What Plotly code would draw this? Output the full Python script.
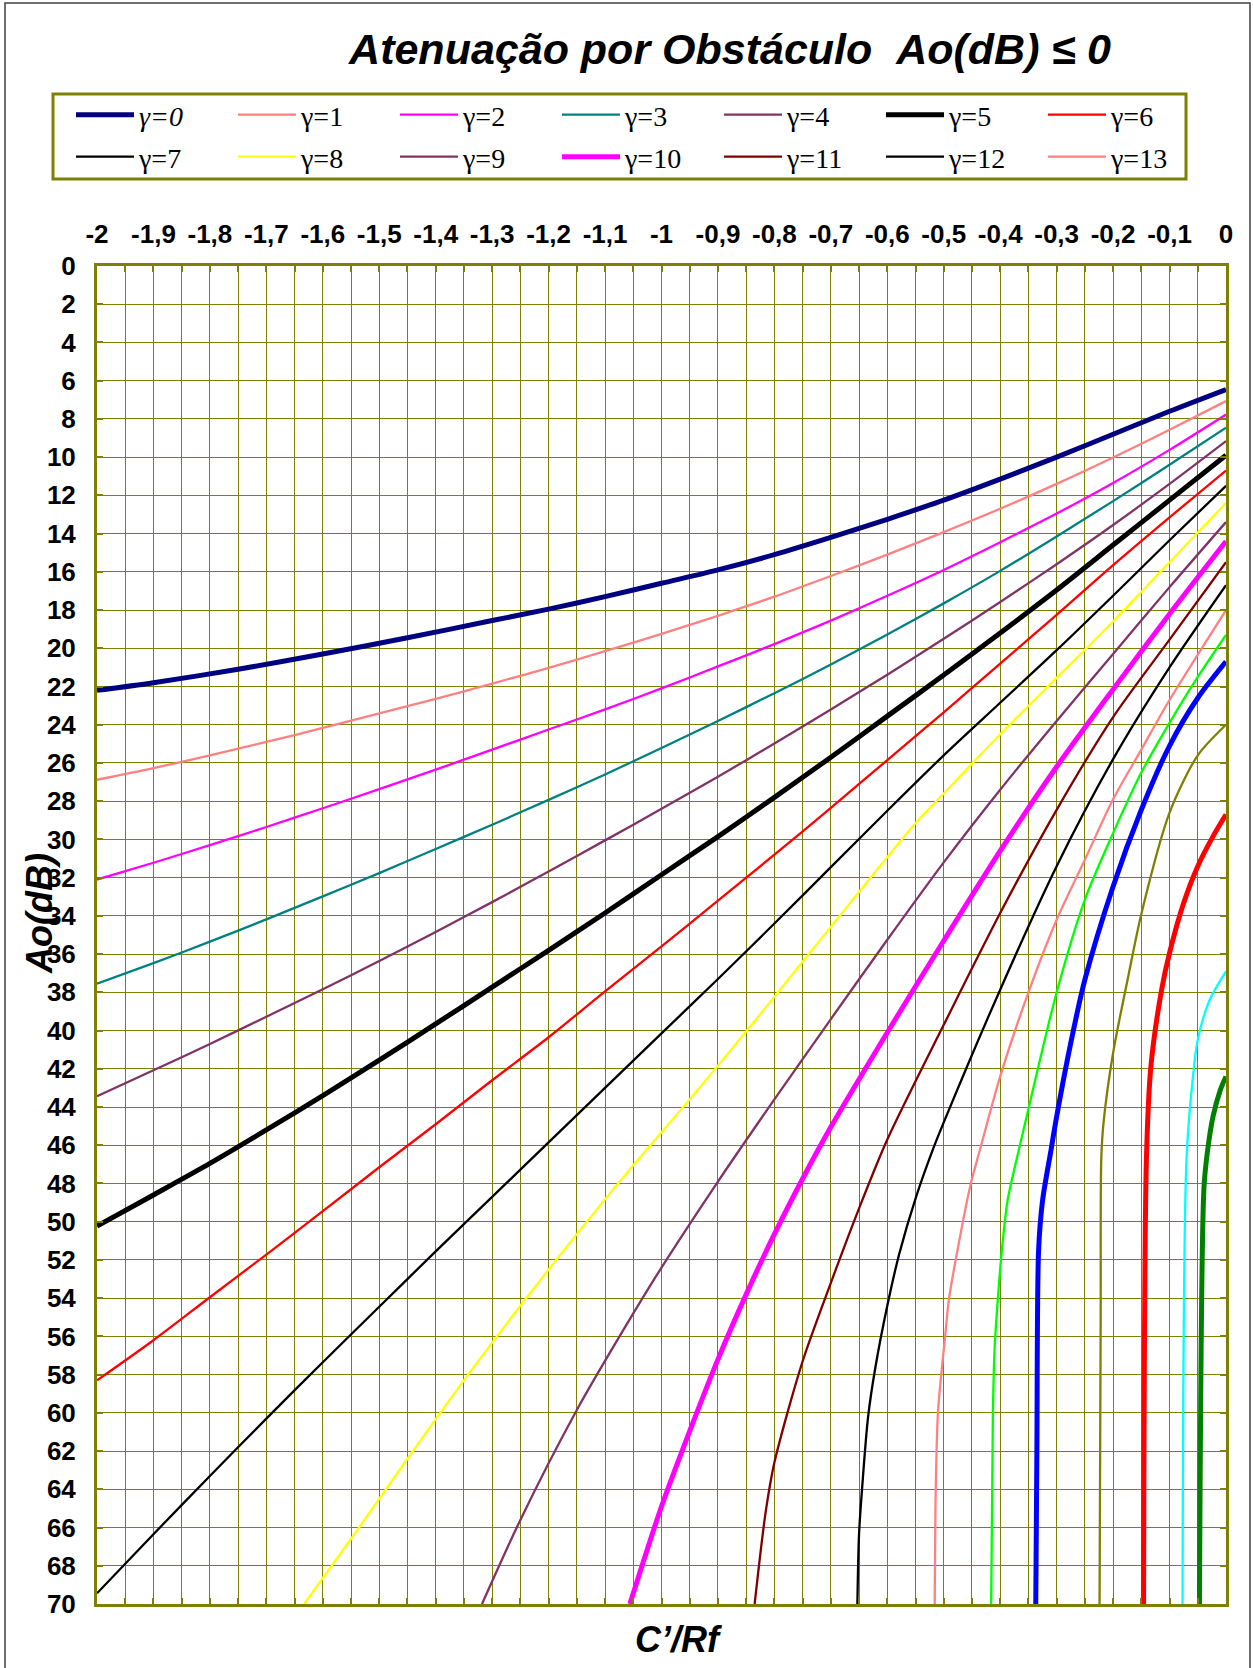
import plotly.graph_objects as go

# ---------------------------------------------------------------------------
# Axis ticks
# ---------------------------------------------------------------------------
X_TICKS = [-2.0, -1.9, -1.8, -1.7, -1.6, -1.5, -1.4, -1.3, -1.2, -1.1, -1.0,
           -0.9, -0.8, -0.7, -0.6, -0.5, -0.4, -0.3, -0.2, -0.1, 0.0]
X_TICK_LABELS = ["-2", "-1,9", "-1,8", "-1,7", "-1,6", "-1,5", "-1,4", "-1,3",
                 "-1,2", "-1,1", "-1", "-0,9", "-0,8", "-0,7", "-0,6", "-0,5",
                 "-0,4", "-0,3", "-0,2", "-0,1", "0"]
Y_TICKS = list(range(0, 72, 2))

# ---------------------------------------------------------------------------
# Curves Ao(dB) x C'/Rf, one pair of arrays per gamma
# ---------------------------------------------------------------------------
G0_X = [-2.0, -1.9, -1.75, -1.6, -1.45, -1.3, -1.2, -1.1, -1.0, -0.9, -0.8,
        -0.7, -0.6, -0.5, -0.4, -0.3, -0.2, -0.1, 0.0]
G0_Y = [22.2, 21.8, 21.1, 20.3, 19.45, 18.55, 17.95, 17.3, 16.6, 15.9, 15.1,
        14.2, 13.25, 12.25, 11.15, 10.0, 8.8, 7.6, 6.46]

G1_X = [-2.0, -1.9, -1.8, -1.7, -1.6, -1.5, -1.4, -1.3, -1.2, -1.1, -1.0,
        -0.9, -0.8, -0.7, -0.6, -0.5, -0.4, -0.3, -0.2, -0.1, 0.0]
G1_Y = [26.88, 26.27, 25.6, 24.9, 24.17, 23.4, 22.65, 21.85, 21.02, 20.15,
        19.25, 18.3, 17.3, 16.22, 15.1, 13.92, 12.7, 11.4, 10.02, 8.57, 7.07]

G2_X = [-2.0, -1.9, -1.8, -1.7, -1.6, -1.5, -1.4, -1.3, -1.2, -1.1, -1.0,
        -0.9, -0.8, -0.7, -0.6, -0.5, -0.4, -0.3, -0.2, -0.1, 0.0]
G2_Y = [32.1, 31.22, 30.3, 29.35, 28.37, 27.37, 26.35, 25.3, 24.25, 23.2,
        22.1, 20.95, 19.78, 18.55, 17.25, 15.9, 14.45, 12.95, 11.35, 9.62, 7.77]

G3_X = [-2.0, -1.9, -1.8, -1.7, -1.6, -1.5, -1.4, -1.3, -1.2, -1.1, -1.0,
        -0.9, -0.8, -0.7, -0.6, -0.5, -0.4, -0.3, -0.2, -0.1, 0.0]
G3_Y = [37.55, 36.47, 35.35, 34.18, 32.98, 31.76, 30.5, 29.23, 27.93, 26.6,
        25.22, 23.8, 22.35, 20.85, 19.28, 17.65, 15.95, 14.15, 12.3, 10.4, 8.46]

G4_X = [-2.0, -1.9, -1.8, -1.7, -1.6, -1.5, -1.4, -1.3, -1.2, -1.1, -1.0,
        -0.9, -0.8, -0.7, -0.6, -0.5, -0.4, -0.3, -0.2, -0.1, 0.0]
G4_Y = [43.44, 42.08, 40.7, 39.28, 37.84, 36.36, 34.84, 33.28, 31.68, 30.05,
        28.4, 26.72, 24.98, 23.2, 21.38, 19.5, 17.58, 15.6, 13.55, 11.4, 9.16]

G5_X = [-2.0, -1.9, -1.8, -1.7, -1.6, -1.5, -1.4, -1.3, -1.2, -1.1, -1.0,
        -0.9, -0.8, -0.7, -0.6, -0.5, -0.4, -0.3, -0.2, -0.1, 0.0]
G5_Y = [50.23, 48.6, 46.95, 45.2, 43.4, 41.55, 39.65, 37.73, 35.8, 33.85,
        31.85, 29.85, 27.8, 25.7, 23.55, 21.4, 19.2, 16.95, 14.6, 12.25, 9.9]

G6_X = [-2.0, -1.9, -1.8, -1.7, -1.6, -1.5, -1.4, -1.3, -1.2, -1.1, -1.0,
        -0.9, -0.8, -0.7, -0.6, -0.5, -0.4, -0.3, -0.2, -0.1, 0.0]
G6_Y = [58.3, 56.2, 53.95, 51.72, 49.45, 47.15, 44.9, 42.6, 40.35, 37.95,
        35.6, 33.2, 30.8, 28.35, 25.85, 23.35, 20.8, 18.25, 15.65, 13.15, 10.7]

G7_X = [-2.0, -1.9, -1.8, -1.7, -1.6, -1.5, -1.4, -1.3, -1.2, -1.1, -1.0,
        -0.9, -0.8, -0.7, -0.6, -0.5, -0.4, -0.3, -0.2, -0.1, 0.0]
G7_Y = [69.44, 66.35, 63.3, 60.3, 57.35, 54.45, 51.55, 48.7, 45.85, 43.0,
        40.15, 37.3, 34.4, 31.45, 28.5, 25.6, 22.85, 20.1, 17.25, 14.35, 11.5]

G8_X = [-1.633, -1.55, -1.45, -1.35, -1.25, -1.15, -1.05, -0.95, -0.85,
        -0.75, -0.65, -0.55, -0.5, -0.4, -0.3, -0.2, -0.1, 0.0]
G8_Y = [70.0, 66.6, 62.4, 58.3, 54.4, 50.65, 47.05, 43.6, 40.05,
        36.4, 32.75, 29.15, 27.6, 24.5, 21.55, 18.6, 15.5, 12.4]

G9_X = [-1.318, -1.25, -1.15, -1.05, -1.0, -0.9, -0.8, -0.7, -0.6, -0.5,
        -0.4, -0.3, -0.2, -0.1, 0.0]
G9_Y = [70.0, 65.6, 59.85, 54.8, 52.4, 47.9, 43.6, 39.4, 35.25, 31.2,
        27.4, 23.8, 20.3, 16.8, 13.4]

G10_X = [-1.056, -1.0, -0.95, -0.9, -0.85, -0.8, -0.75, -0.7, -0.6, -0.5,
         -0.4, -0.3, -0.2, -0.1, 0.0]
G10_Y = [70.0, 64.9, 60.95, 57.2, 53.8, 50.65, 47.75, 45.05, 40.1, 35.3,
         30.6, 26.2, 22.15, 18.2, 14.4]

G11_X = [-0.835, -0.816, -0.8, -0.75, -0.7, -0.65, -0.6, -0.5, -0.4, -0.3,
         -0.2, -0.1, 0.0]
G11_Y = [70.0, 65.3, 62.6, 57.3, 53.2, 49.3, 45.7, 39.7, 33.85, 28.45,
         23.6, 19.55, 15.5]

G12_X = [-0.653, -0.65, -0.644, -0.634, -0.621, -0.6, -0.579, -0.549, -0.517,
         -0.5, -0.4, -0.3, -0.2, -0.1, 0.0]
G12_Y = [70.0, 66.3, 63.7, 60.2, 57.6, 54.4, 51.7, 48.7, 46.05,
         44.8, 37.86, 31.4, 25.8, 21.0, 16.7]

G13_X = [-0.516, -0.514, -0.51, -0.497, -0.491, -0.47, -0.452, -0.436, -0.4,
         -0.35, -0.3, -0.25, -0.2, -0.15, -0.104, 0.0]
G13_Y = [70.0, 63.7, 59.85, 55.84, 54.1, 50.6, 48.0, 46.25, 42.4,
         38.0, 34.2, 31.06, 27.9, 25.3, 22.9, 18.0]

G14_X = [-0.416, -0.413, -0.41, -0.403, -0.397, -0.387, -0.367, -0.35, -0.3,
         -0.25, -0.2, -0.15, -0.1, -0.05, 0.0]
G14_Y = [70.0, 60.2, 56.7, 53.57, 51.5, 48.9, 46.25, 44.1, 38.0,
         33.15, 29.67, 26.5, 23.9, 21.5, 19.3]

G15_X = [-0.337, -0.335, -0.332, -0.325, -0.31, -0.3, -0.275, -0.25, -0.2,
         -0.15, -0.1, -0.05, 0.0]
G15_Y = [70.0, 61.9, 51.5, 48.9, 46.25, 44.5, 40.65, 37.34, 32.46,
         28.45, 25.1, 22.6, 20.7]

G16_X = [-0.224, -0.222, -0.221, -0.217, -0.2, -0.172, -0.15, -0.1, -0.05, 0.0]
G16_Y = [70.0, 55.0, 46.75, 44.84, 41.17, 37.0, 33.9, 28.6, 25.6, 24.0]

G17_X = [-0.146, -0.141, -0.133, -0.114, -0.1, -0.075, -0.05, -0.023, 0.0]
G17_Y = [70.0, 46.75, 41.87, 37.86, 35.94, 33.33, 31.4, 29.84, 28.7]

G18_X = [-0.077, -0.07, -0.0585, -0.05, -0.029, 0.0]
G18_Y = [70.0, 46.75, 42.4, 40.48, 38.4, 36.9]

G19_X = [-0.047, -0.039, -0.0325, -0.023, -0.01, 0.0]
G19_Y = [70.0, 48.2, 46.25, 44.5, 43.1, 42.4]

NAMES = ["<i>γ=0</i>", "γ=1", "γ=2", "γ=3", "γ=4", "γ=5", "γ=6", "γ=7",
         "γ=8", "γ=9", "γ=10", "γ=11", "γ=12", "γ=13",
         "γ=14", "γ=15", "γ=16", "γ=17", "γ=18", "γ=19"]

CURVES = [(G0_X, G0_Y), (G1_X, G1_Y), (G2_X, G2_Y), (G3_X, G3_Y),
          (G4_X, G4_Y), (G5_X, G5_Y), (G6_X, G6_Y), (G7_X, G7_Y),
          (G8_X, G8_Y), (G9_X, G9_Y), (G10_X, G10_Y), (G11_X, G11_Y),
          (G12_X, G12_Y), (G13_X, G13_Y), (G14_X, G14_Y), (G15_X, G15_Y),
          (G16_X, G16_Y), (G17_X, G17_Y), (G18_X, G18_Y), (G19_X, G19_Y)]

# ---------------------------------------------------------------------------
# Styles
# ---------------------------------------------------------------------------
COLORS = ["#000080", "#FF8080", "#FF00FF", "#008080", "#803366", "#000000",
          "#FF0000", "#000000", "#FFFF00", "#803366", "#FF00FF", "#800000",
          "#000000", "#FF8080", "#00FF00", "#0000FF", "#808000", "#FF0000",
          "#00FFFF", "#008000"]
THICK = {0, 5, 10, 15, 17, 19}
ROW1 = set(range(0, 7))          # first legend row
ROW2 = set(range(7, 14))         # second legend row

OLIVE = "#808000"
W, H = 1253, 1668
L, R, T, B = 97, 27, 266, 64
PW, PH = W - L - R, H - T - B


def px_to_paper_x(px):
    return (px - L) / PW


def px_to_paper_y(py):
    return (H - B - py) / PH


fig = go.Figure()
for i, ((xs, ys), name, color) in enumerate(zip(CURVES, NAMES, COLORS)):
    in_legend = i in ROW1 or i in ROW2
    fig.add_trace(go.Scatter(
        x=xs, y=ys, mode="lines", name=name,
        line=dict(color=color, width=5 if i in THICK else 2.3,
                  shape="spline", smoothing=0.8),
        showlegend=in_legend,
        legend="legend" if i in ROW1 else "legend2",
        hoverinfo="x+y+name",
    ))

tick_font = dict(family="Liberation Sans", size=26, color="black", weight="bold")

fig.update_xaxes(
    side="top", range=[-2, 0],
    tickmode="array", tickvals=X_TICKS, ticktext=X_TICK_LABELS,
    tickfont=tick_font, ticklabelstandoff=10,
    showgrid=True, gridcolor=OLIVE, gridwidth=1,
    minor=dict(dtick=0.05, tick0=0, showgrid=True, gridcolor=OLIVE,
               gridwidth=1, ticks="inside", ticklen=6, tickwidth=2,
               tickcolor=OLIVE),
    ticks="inside", ticklen=6, tickwidth=2, tickcolor=OLIVE,
    showline=True, linecolor=OLIVE, linewidth=3, mirror="ticks",
    zeroline=False, fixedrange=True,
)
fig.update_yaxes(
    range=[70, 0],
    tickmode="array", tickvals=Y_TICKS, ticktext=[str(v) for v in Y_TICKS],
    tickfont=tick_font, ticklabelstandoff=13,
    showgrid=True, gridcolor=OLIVE, gridwidth=1,
    ticks="inside", ticklen=6, tickwidth=2, tickcolor=OLIVE,
    showline=True, linecolor=OLIVE, linewidth=3, mirror="ticks",
    zeroline=False, fixedrange=True,
)

legend_common = dict(
    orientation="h", xanchor="left", yanchor="middle",
    bgcolor="rgba(0,0,0,0)", borderwidth=0,
    font=dict(family="Liberation Serif", size=28, color="black"),
    entrywidth=89, entrywidthmode="pixels", itemwidth=58,
    traceorder="normal",
)

fig.update_layout(
    width=W, height=H,
    margin=dict(l=L, r=R, t=T, b=B, pad=0),
    paper_bgcolor="white", plot_bgcolor="white",
    title=dict(
        text="<b><i>Atenuação por Obstáculo\u00a0\u00a0Ao(dB) ≤ 0</i></b>",
        x=730 / W, xanchor="center", xref="container",
        y=1 - 49 / H, yanchor="middle", yref="container",
        font=dict(family="Liberation Sans", size=43, color="black"),
    ),
    legend=dict(x=px_to_paper_x(71), y=px_to_paper_y(115), **legend_common),
    legend2=dict(x=px_to_paper_x(71), y=px_to_paper_y(157), **legend_common),
    annotations=[
        dict(text="<b><i>Ao(dB)</i></b>", xref="paper", yref="paper",
             x=px_to_paper_x(40), y=px_to_paper_y(914), textangle=-90,
             showarrow=False, xanchor="center", yanchor="middle",
             font=dict(family="Liberation Sans", size=36, color="black")),
        dict(text="<b><i>C’/Rf</i></b>", xref="paper", yref="paper",
             x=px_to_paper_x(678), y=px_to_paper_y(1639),
             showarrow=False, xanchor="center", yanchor="middle",
             font=dict(family="Liberation Sans", size=36, color="black")),
    ],
    shapes=[
        # outer frame of the figure
        dict(type="rect", xref="paper", yref="paper", layer="below",
             x0=px_to_paper_x(5), x1=px_to_paper_x(1250),
             y0=px_to_paper_y(1672), y1=px_to_paper_y(3),
             line=dict(color="#404040", width=1.5), fillcolor="rgba(0,0,0,0)"),
        # legend box
        dict(type="rect", xref="paper", yref="paper", layer="below",
             x0=px_to_paper_x(53), x1=px_to_paper_x(1186),
             y0=px_to_paper_y(179), y1=px_to_paper_y(94),
             line=dict(color=OLIVE, width=3), fillcolor="white"),
    ],
)

fig.write_html("out.html")
